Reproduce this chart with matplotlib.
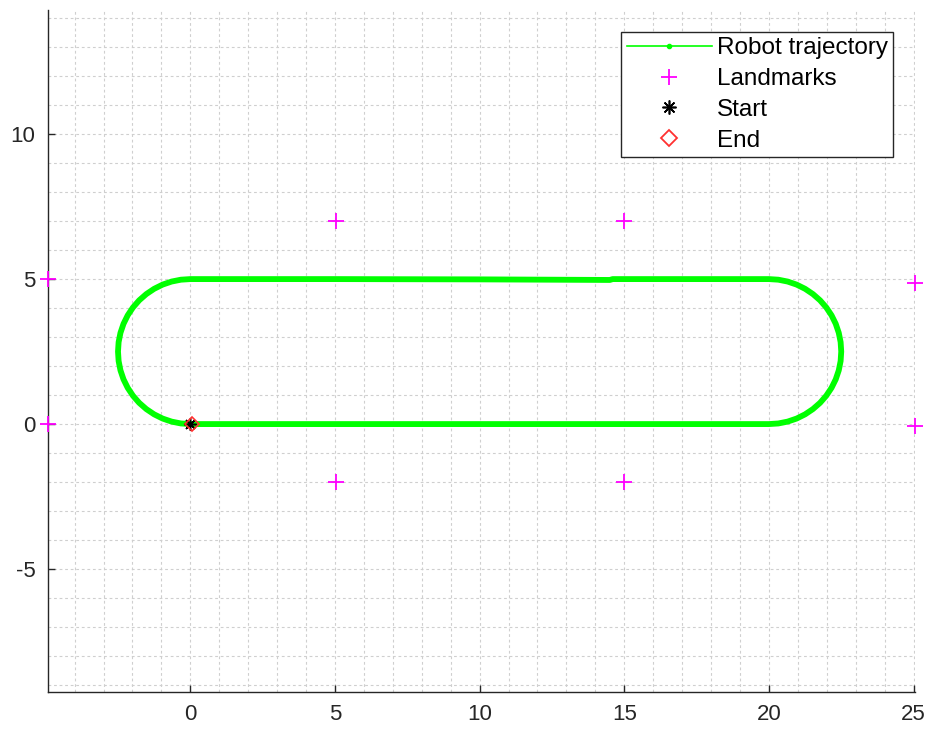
import matplotlib
matplotlib.use('Agg')
import matplotlib.pyplot as plt
from matplotlib.lines import Line2D
from matplotlib.ticker import MultipleLocator

plt.rcParams['font.family'] = ['Liberation Sans', 'DejaVu Sans']
plt.rcParams['axes.unicode_minus'] = False

# trajectory (stadium loop, counter-clockwise from origin)
traj_x = [0, 5, 10, 15, 20,
          20.326, 20.647, 20.957, 21.25, 21.522, 21.768, 21.983, 22.165, 22.31, 22.415, 22.479,
          22.5,
          22.479, 22.415, 22.31, 22.165, 21.983, 21.768, 21.522, 21.25, 20.957, 20.647, 20.326,
          20, 14.6, 14.5, 10, 5, 0,
          -0.326, -0.647, -0.957, -1.25, -1.522, -1.768, -1.983, -2.165, -2.31, -2.415, -2.479,
          -2.5,
          -2.479, -2.415, -2.31, -2.165, -1.983, -1.768, -1.522, -1.25, -0.957, -0.647, -0.326,
          0]
traj_y = [0, 0, 0, 0, 0,
          0.021, 0.085, 0.19, 0.335, 0.517, 0.732, 0.978, 1.25, 1.543, 1.853, 2.174,
          2.5,
          2.826, 3.147, 3.457, 3.75, 4.022, 4.268, 4.483, 4.665, 4.81, 4.915, 4.979,
          5.0, 5.0, 4.97, 4.99, 5.0, 5.0,
          4.979, 4.915, 4.81, 4.665, 4.483, 4.268, 4.022, 3.75, 3.457, 3.147, 2.826,
          2.5,
          2.174, 1.853, 1.543, 1.25, 0.978, 0.732, 0.517, 0.335, 0.19, 0.085, 0.021,
          0]

landmark_x = [-4.92, -4.92, 5.05, 15.0, 25.05, 25.05, 5.05, 15.0]
landmark_y = [5.0, 0.0, 7.0, 7.0, 4.88, -0.06, -2.0, -2.0]

start_xy = (0.0, 0.0)
end_xy = (0.05, 0.0)

star = (8, 2, 0)  # matlab style asterisk

fig = plt.figure(figsize=[9.3, 7.34], dpi=100)
ax = fig.add_axes([48/930, 42/734, 867/930, 682/734])

ax.plot(traj_x, traj_y, color='#00ff00', lw=4.2, solid_capstyle='round',
        solid_joinstyle='round', zorder=3)
ax.plot(landmark_x, landmark_y, '+', color='#ff00ff', ms=11, mew=1.3,
        ls='none', zorder=4, clip_on=False)
ax.plot(*start_xy, marker=star, color='k', ms=9, mew=1.1, zorder=5)
ax.plot(*end_xy, 'D', mfc='none', mec='#ff3030', ms=7.5, mew=1.2, zorder=6)

handles = [
    Line2D([], [], color='#00ff00', lw=1.2, marker='.', ms=6),
    Line2D([], [], color='#ff00ff', marker='+', ls='none', ms=12, mew=1.3),
    Line2D([], [], color='k', marker=star, ls='none', ms=10, mew=1.2),
    Line2D([], [], marker='D', mfc='none', mec='#ff3030', ls='none', ms=8.5, mew=1.3),
]
labels = ['Robot trajectory', 'Landmarks', 'Start', 'End']
leg = ax.legend(handles, labels, loc='upper right', bbox_to_anchor=(0.9746, 0.9677),
                fontsize=17.5, frameon=True, fancybox=False, framealpha=1,
                edgecolor='#262626', borderpad=0.22, labelspacing=0.36,
                handlelength=3.5, handletextpad=0.2, borderaxespad=0)
leg.get_frame().set_linewidth(1.0)

ax.set_xlim(min(landmark_x), max(landmark_x))
ax.set_ylim(-9.24, 14.28)
ax.set_xticks([0, 5, 10, 15, 20, 25])
ax.set_yticks([-5, 0, 5, 10])
ax.xaxis.set_minor_locator(MultipleLocator(1))
ax.yaxis.set_minor_locator(MultipleLocator(1))
ax.tick_params(which='major', direction='in', length=5, width=1, color='#262626',
               labelsize=16, labelcolor='#262626', pad=9)
ax.tick_params(which='minor', length=0)
ax.grid(True, which='both', ls=(0, (2.5, 2.5)), color='#cfcfcf', lw=0.8)
ax.set_axisbelow(True)

for s in ['top', 'right']:
    ax.spines[s].set_visible(False)
for s in ['left', 'bottom']:
    ax.spines[s].set_color('#262626')
    ax.spines[s].set_linewidth(1.0)

fig.savefig('out.png')
